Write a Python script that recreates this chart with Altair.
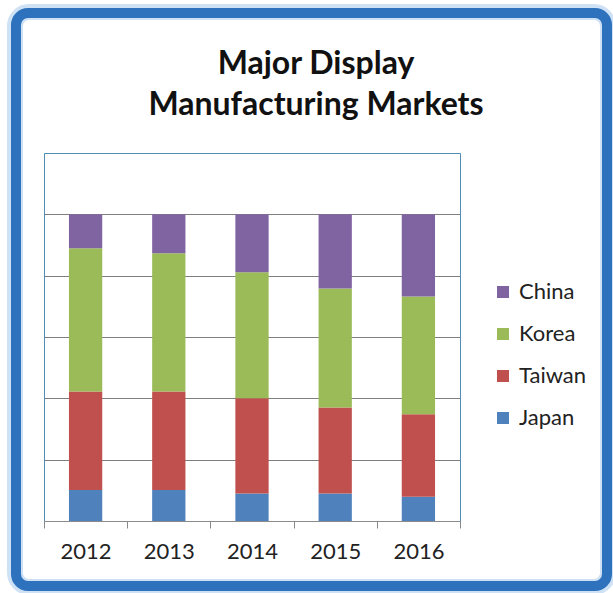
import altair as alt
import pandas as pd

years = ["2012", "2013", "2014", "2015", "2016"]
series = ["China", "Korea", "Taiwan", "Japan"]
colors = ["#8064A2", "#9BBB59", "#C0504D", "#4F81BD"]
japan = [10.1, 10.1, 9.0, 9.0, 7.9]
taiwan = [32.1, 32.1, 31.0, 28.0, 26.9]
korea = [46.7, 45.1, 41.1, 38.8, 38.4]
china = [11.1, 12.7, 18.9, 24.2, 26.8]

rows = []
for name, vals, order in [("Japan", japan, 0), ("Taiwan", taiwan, 1), ("Korea", korea, 2), ("China", china, 3)]:
    for y, v in zip(years, vals):
        rows.append({"year": y, "market": name, "share": v, "order": order})
df = pd.DataFrame(rows)

bars = alt.Chart(df).mark_bar(width=alt.RelativeBandSize(0.4)).encode(
    x=alt.X("year:N", title=None,
            scale=alt.Scale(paddingInner=0, paddingOuter=0),
            axis=alt.Axis(labelAngle=0, labelFontSize=22, labelFont="Lato", labelColor="#222222",
                          domainColor="#8a8a8a", tickColor="#8a8a8a", tickSize=7,
                          tickBand="extent", labelPadding=13, grid=False)),
    y=alt.Y("share:Q", stack="zero", title=None,
            scale=alt.Scale(domain=[0, 120], nice=False),
            axis=alt.Axis(values=[0, 20, 40, 60, 80, 100], labels=False, ticks=False, domain=False,
                          grid=True, gridColor="#7f7f7f", gridWidth=1)),
    color=alt.Color("market:N", scale=alt.Scale(domain=series, range=colors),
                    legend=alt.Legend(title=None, orient="none", legendX=448, legendY=128,
                                      symbolType="square", symbolSize=144, symbolStrokeWidth=0,
                                      labelFontSize=22, labelFont="Lato", labelColor="#222222",
                                      labelOffset=5, rowPadding=20)),
    order=alt.Order("order:Q", sort="ascending"),
)

glow = alt.Chart(pd.DataFrame({"a": [0]})).mark_rect(
    fill=None, stroke="#cfe2f5", strokeWidth=16, cornerRadius=14
).encode(x=alt.value(-29), x2=alt.value(564), y=alt.value(-141), y2=alt.value(434))

frame = alt.Chart(pd.DataFrame({"a": [0]})).mark_rect(
    fill=None, stroke="#2E72BE", strokeWidth=10, cornerRadius=12
).encode(x=alt.value(-28), x2=alt.value(563), y=alt.value(-140), y2=alt.value(433))

chart = alt.layer(glow, frame, bars).properties(
    width=416, height=368,
    autosize=alt.AutoSizeParams(type="none"),
    padding={"left": 44, "top": 153, "right": 153, "bottom": 72},
    background="white",
    title=alt.TitleParams(text=["Major Display", "Manufacturing Markets"], fontSize=32, font="Lato",
                          fontWeight="bold", color="#111111", anchor="middle", dx=64,
                          lineHeight=41, offset=-118, frame="group"),
).configure_view(stroke="#4F8DB5", strokeWidth=1)

chart.save("out.html", embed_options={"renderer": "svg", "actions": False})
